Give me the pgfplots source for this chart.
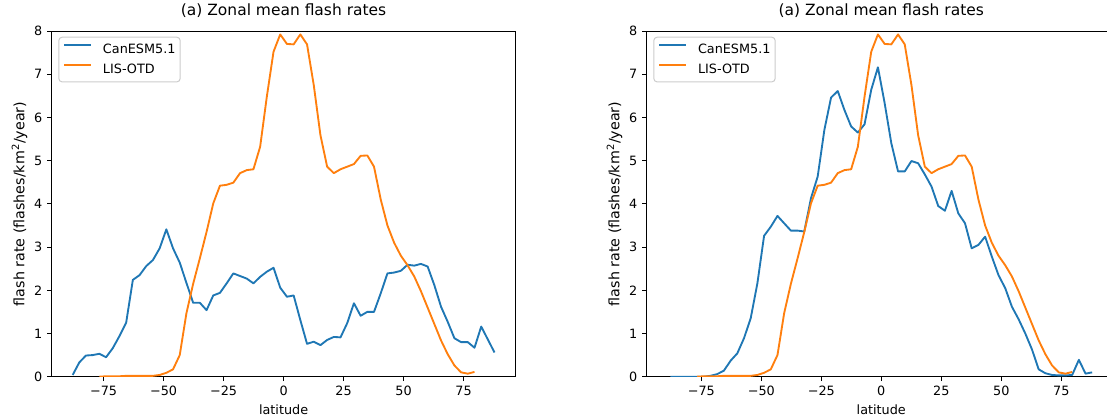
\documentclass[border=0pt]{standalone}
\usepackage{fontspec}
\setmainfont{DejaVu Sans}
\usepackage{pgfplots}
\pgfplotsset{compat=1.18}
\usepackage{pgfplotstable}

\definecolor{tabblue}{HTML}{1F77B4}
\definecolor{taborange}{HTML}{FF7F0E}
\newcommand\ticksize{\fontsize{9.6}{11.5}\selectfont}
\newcommand\labelsize{\fontsize{10.7}{12.8}\selectfont}
\newcommand\titlesize{\fontsize{11.6}{13.9}\selectfont}

% CanESM5.1, left (a) and right (b) panels, on the T63 latitudes
\pgfplotstableread{
lat a b
-87.86 0.04 0.00
-85.10 0.33 0.00
-82.33 0.49 0.00
-79.53 0.50 0.00
-76.74 0.53 0.00
-73.95 0.45 0.00
-71.16 0.66 0.02
-68.37 0.94 0.06
-65.58 1.25 0.14
-62.79 2.24 0.37
-60.00 2.35 0.54
-57.21 2.56 0.89
-54.42 2.70 1.35
-51.63 2.97 2.16
-48.84 3.41 3.26
-46.05 2.97 3.47
-43.26 2.64 3.72
-40.47 2.17 3.55
-37.67 1.71 3.38
-34.88 1.71 3.38
-32.09 1.54 3.36
-29.30 1.88 4.13
-26.51 1.94 4.63
-23.72 2.16 5.71
-20.93 2.39 6.46
-18.14 2.33 6.61
-15.35 2.27 6.17
-12.56 2.16 5.79
-9.77 2.31 5.65
-6.98 2.43 5.84
-4.19 2.52 6.64
-1.40 2.06 7.16
1.40 1.85 6.33
4.19 1.88 5.40
6.98 1.31 4.75
9.77 0.76 4.75
12.56 0.81 4.99
15.35 0.73 4.94
18.14 0.85 4.68
20.93 0.92 4.40
23.72 0.91 3.95
26.51 1.24 3.84
29.30 1.70 4.30
32.09 1.41 3.78
34.88 1.50 3.55
37.67 1.50 2.97
40.47 1.93 3.05
43.26 2.39 3.24
46.05 2.41 2.78
48.84 2.45 2.35
51.63 2.59 2.05
54.42 2.57 1.62
57.21 2.61 1.33
60.00 2.55 1.00
62.79 2.12 0.63
65.58 1.62 0.17
68.37 1.27 0.08
71.16 0.89 0.04
73.95 0.80 0.03
76.74 0.80 0.03
79.53 0.67 0.04
82.33 1.16 0.39
85.10 0.86 0.07
87.86 0.56 0.10
}\canesm

% LIS-OTD climatology, same in both panels
\pgfplotstableread{
lat obs
-76.74 0.00
-73.95 0.01
-71.16 0.01
-68.37 0.01
-65.58 0.02
-62.79 0.02
-60.00 0.02
-57.21 0.02
-54.42 0.02
-51.63 0.04
-48.84 0.09
-46.05 0.17
-43.26 0.50
-40.47 1.47
-37.67 2.15
-34.88 2.74
-32.09 3.35
-29.30 4.01
-26.51 4.42
-23.72 4.44
-20.93 4.49
-18.14 4.71
-15.35 4.78
-12.56 4.80
-9.77 5.32
-6.98 6.48
-4.19 7.52
-1.40 7.92
1.40 7.70
4.19 7.69
6.98 7.92
9.77 7.69
12.56 6.75
15.35 5.59
18.14 4.86
20.93 4.71
23.72 4.80
26.51 4.86
29.30 4.92
32.09 5.11
34.88 5.12
37.67 4.86
40.47 4.10
43.26 3.50
46.05 3.10
48.84 2.80
51.63 2.58
54.42 2.32
57.21 1.98
60.00 1.60
62.79 1.22
65.58 0.84
68.37 0.52
71.16 0.26
73.95 0.10
76.74 0.07
79.53 0.11
}\lisotd

\pgfplotsset{
  flashpanel/.style={
    scale only axis,
    width=347.85pt, height=259.3pt,
    xmin=-96.6, xmax=96.6, ymin=0, ymax=8,
    xtick={-75,-50,-25,0,25,50,75},
    xticklabels={−75,−50,−25,0,25,50,75},
    ytick={0,1,2,3,4,5,6,7,8},
    yticklabels={0,1,2,3,4,5,6,7,8},
    xtick pos=left, ytick pos=left,
    tick align=outside, major tick length=3.4pt,
    tick style={black, line width=0.6pt},
    axis line style={line width=0.6pt},
    tick label style={font=\ticksize},
    xticklabel style={inner sep=0pt, anchor=north, yshift=-3.4pt},
    yticklabel style={inner sep=0pt, anchor=east, xshift=-3.4pt},
    title={(a) Zonal mean flash rates},
    title style={font=\titlesize, at={(axis description cs:0.5,1)}, anchor=base, yshift=5.8pt},
    xlabel={latitude},
    every axis x label/.style={at={(axis description cs:0.5,0)}, anchor=base, yshift=-28pt, font=\ticksize},
    ylabel={flash rate (flashes/km\textsuperscript{2}/year)},
    every axis y label/.style={at={(axis description cs:0,0.5)}, xshift=-24.2pt, rotate=90, anchor=center, font=\labelsize},
    legend cell align=left,
    legend image code/.code={\draw[#1] (0pt,3.4pt) -- (20.25pt,3.4pt);},
    legend style={at={(axis description cs:0,1)}, anchor=north west,
      xshift=4.95pt, yshift=-4.3pt, draw=black!20, line width=0.75pt,
      rounded corners=2.5pt, fill=white, fill opacity=0.8, text opacity=1,
      inner xsep=3.5pt, inner ysep=4pt, font=\ticksize, row sep=4.5pt,
      nodes={inner sep=0pt, text height=8pt, text depth=2.5pt},
      /tikz/every odd column/.append style={column sep=8pt}},
  },
  canline/.style={tabblue, line width=1.4pt, line join=round},
  obsline/.style={taborange, line width=1.4pt, line join=round},
}

\begin{document}
\begin{tikzpicture}
\begin{axis}[flashpanel]
\addplot[canline] table[x=lat, y=a] {\canesm};
\addlegendentry{CanESM5.1}
\addplot[obsline] table[x=lat, y=obs] {\lisotd};
\addlegendentry{LIS-OTD}
\end{axis}

\begin{axis}[flashpanel, at={(446.25pt,0pt)}, width=351.9pt, xmin=-97.75, xmax=97.75]
\addplot[canline] table[x=lat, y=b] {\canesm};
\addlegendentry{CanESM5.1}
\addplot[obsline] table[x=lat, y=obs] {\lisotd};
\addlegendentry{LIS-OTD}
\end{axis}

% the reference is cropped on the right and at the bottom
\pgfresetboundingbox
\path[use as bounding box] (-38.775pt,-29.475pt) rectangle (791.475pt,282.525pt);
\end{tikzpicture}
\end{document}
